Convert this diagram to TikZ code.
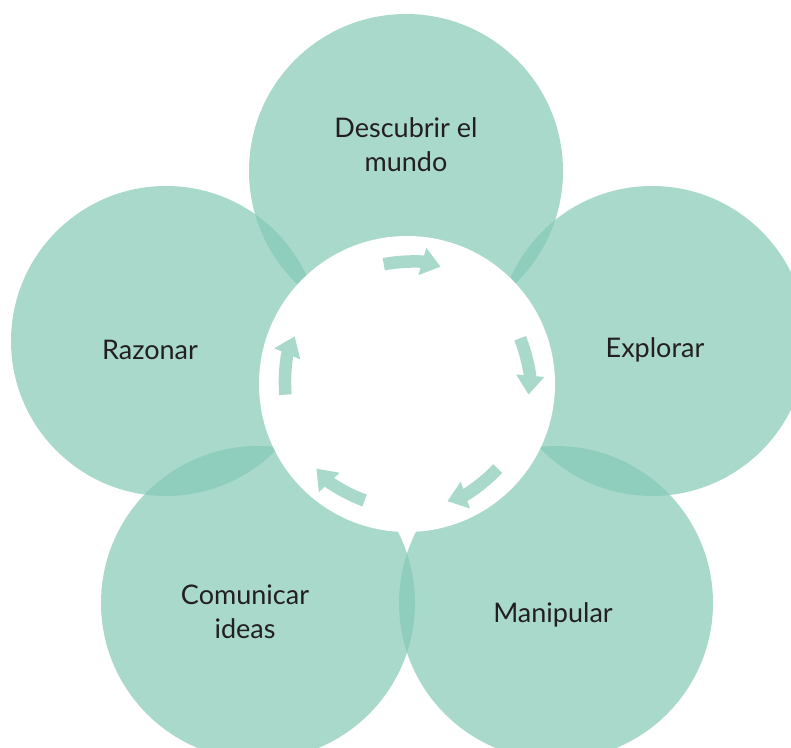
\documentclass[tikz,border=0pt]{standalone}
\usepackage{fontspec}
\setmainfont{Lato}
\usepackage{tikz}
\usetikzlibrary{arrows.meta}

\definecolor{petalgreen}{RGB}{132,201,181}
\definecolor{arrowgreen}{RGB}{169,217,203}
\definecolor{inkgray}{RGB}{35,31,32}

\tikzset{
  petal/.style={circle, fill=petalgreen, fill opacity=0.7, inner sep=0pt, minimum size=#1},
  hubdisc/.style={circle, fill=white, inner sep=0pt, minimum size=296pt},
  petaltext/.style={align=center, text=inkgray, font=\fontsize{27}{34}\selectfont},
  cycarrow/.style={arrowgreen, line width=12.5pt, -{Triangle[length=19pt,width=27pt]}}
}

\begin{document}
\begin{tikzpicture}[x=1pt,y=1pt]
	\useasboundingbox (0,0) rectangle (791,747);

	% petals
	\node[petal=314pt] (descubrir) at (406,576) {};
	\node[petal=310pt] (explorar) at (652,406) {};
	\node[petal=310pt] (razonar) at (166,406) {};
	\node[petal=314pt] (comunicar) at (258,144) {};
	\node[petal=314pt] (manipular) at (556,144) {};

	\node[hubdisc] (hub) at (407,363) {};

	% arrows round the hub
	\foreach \a/\b/\r in {101/74/122, 22/-5/122, -43/-71/124, -110/-137/124, 185/157/122}{
	  \draw[cycarrow] ([shift={(\a:\r pt)}]hub.center) arc[start angle=\a, end angle=\b, radius=\r pt];
	}

	% labels
	\node[petaltext] (t-descubrir) at (406,602) {Descubrir el\\mundo};
	\node[petaltext] (t-razonar) at (150,397) {Razonar};
	\node[petaltext] (t-explorar) at (655,397) {Explorar};
	\node[petaltext] (t-comunicar) at (245,135) {Comunicar\\ideas};
	\node[petaltext] (t-manipular) at (553,132) {Manipular};
\end{tikzpicture}
\end{document}
